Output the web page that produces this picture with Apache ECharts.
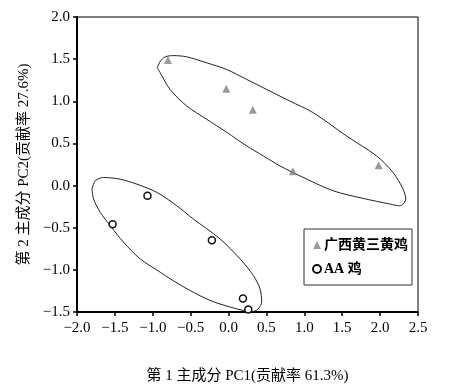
<!DOCTYPE html>
<html><head><meta charset="utf-8">
<script src="https://cdn.jsdelivr.net/npm/echarts@6/dist/echarts.min.js"></script>
<style>html,body{margin:0;padding:0;background:#fff}#c{width:450px;height:389px}</style>
</head><body><div id="c"></div>
<script>
// Data
var seriesNames = ['广西黄三黄鸡', 'AA 鸡'];
var guangxiPoints = [[-0.80, 1.49], [-0.03, 1.15], [0.32, 0.90], [0.85, 0.17], [1.98, 0.24]];
var aaPoints = [[-1.53, -0.46], [-1.07, -0.12], [-0.22, -0.65], [0.19, -1.34], [0.26, -1.47]];
var upperOutline = [[-0.94,1.40],[-0.90,1.475],[-0.837,1.527],[-0.727,1.542],[-0.551,1.527],[-0.287,1.456],[-0.024,1.377],[0.240,1.259],[0.590,1.101],[0.810,1.002],[1.117,0.865],[1.557,0.588],[1.953,0.352],[2.171,0.155],[2.303,-0.042],[2.339,-0.160],[2.260,-0.240],[2.128,-0.219],[1.776,-0.152],[1.381,-0.062],[0.942,0.115],[0.679,0.233],[0.459,0.352],[0.240,0.470],[-0.024,0.632],[-0.287,0.786],[-0.551,0.943],[-0.771,1.140],[-0.902,1.338],[-0.94,1.40]];
var lowerOutline = [[-1.802,-0.042],[-1.759,0.056],[-1.65,0.096],[-1.43,0.076],[-1.21,0.017],[-0.946,-0.081],[-0.682,-0.240],[-0.464,-0.397],[-0.112,-0.633],[0.152,-0.870],[0.327,-1.067],[0.415,-1.225],[0.437,-1.382],[0.393,-1.461],[0.327,-1.493],[0.195,-1.481],[0.020,-1.441],[-0.244,-1.363],[-0.507,-1.245],[-0.771,-1.106],[-0.903,-1.027],[-1.166,-0.870],[-1.386,-0.672],[-1.561,-0.476],[-1.693,-0.318],[-1.781,-0.160],[-1.802,-0.042]];
var xTitle = '第 1 主成分 PC1(贡献率 61.3%)';
var yTitle = '第 2 主成分 PC2(贡献率 27.6%)';

var serif = '"Liberation Serif", "Noto Sans CJK SC", serif';
var fmt = function (v) { return v.toFixed(1).replace('-', '\u2212'); };
var chart = echarts.init(document.getElementById('c'));
chart.setOption({
  animation: false,
  backgroundColor: '#fff',
  grid: { left: 77, right: 32, top: 17, bottom: 76, show: true, borderColor: '#000', borderWidth: 1 },
  xAxis: {
    type: 'value', min: -2, max: 2.5, interval: 0.5,
    axisLine: { show: true, onZero: false, lineStyle: { color: '#000', width: 2 } },
    axisTick: { show: true, inside: false, length: 4, lineStyle: { color: '#000', width: 1.5 } },
    splitLine: { show: false },
    axisLabel: { formatter: fmt, color: '#000', fontFamily: serif, fontSize: 15, margin: 9 },
    name: xTitle, nameLocation: 'middle', nameGap: 57,
    nameTextStyle: { color: '#000', fontFamily: serif, fontSize: 15 }
  },
  yAxis: {
    type: 'value', min: -1.5, max: 2, interval: 0.5,
    axisLine: { show: true, onZero: false, lineStyle: { color: '#000', width: 2 } },
    axisTick: { show: true, inside: false, length: 4, lineStyle: { color: '#000', width: 1.5 } },
    splitLine: { show: false },
    axisLabel: { formatter: fmt, color: '#000', fontFamily: serif, fontSize: 15, margin: 7 },
    name: yTitle, nameLocation: 'middle', nameGap: 42, nameRotate: 90,
    nameTextStyle: { color: '#000', fontFamily: serif, fontSize: 15 }
  },
  legend: {
    orient: 'vertical', left: 304, top: 229, width: 103, height: 55,
    borderColor: '#333', borderWidth: 1, padding: [9, 4, 9, 8], itemGap: 10,
    itemWidth: 8, itemHeight: 8,
    data: [seriesNames[0], seriesNames[1]],
    textStyle: { color: '#000', fontFamily: serif, fontSize: 14, fontWeight: 'bold', padding: [0, 0, 0, -2] }
  },
  series: [
    { type: 'line', data: upperOutline, smooth: 0.3, symbol: 'none', silent: true,
      lineStyle: { color: '#222', width: 1 }, z: 1 },
    { type: 'line', data: lowerOutline, smooth: 0.3, symbol: 'none', silent: true,
      lineStyle: { color: '#222', width: 1 }, z: 1 },
    { name: seriesNames[0], type: 'scatter', data: guangxiPoints, symbol: 'triangle', symbolSize: 8,
      itemStyle: { color: '#808080' }, z: 3 },
    { name: seriesNames[1], type: 'scatter', data: aaPoints, symbol: 'circle', symbolSize: 7,
      itemStyle: { color: '#ffffff', borderColor: '#111111', borderWidth: 1.5, opacity: 1 }, z: 3 }
  ]
});
</script></body></html>
